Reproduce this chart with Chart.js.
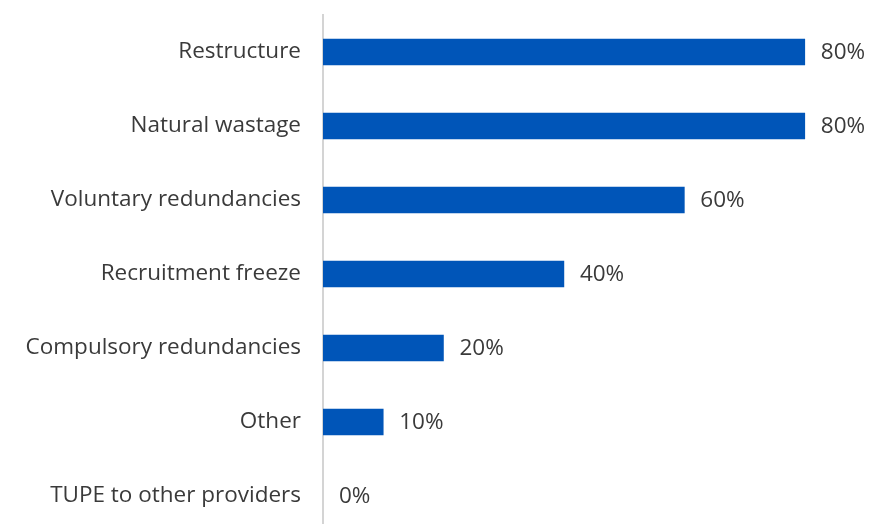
<!DOCTYPE html>
<html>
<head>
<meta charset="utf-8">
<script src="https://cdn.jsdelivr.net/npm/chart.js@4"></script>
<style>
  html, body { margin: 0; padding: 0; background: #fff; overflow: hidden; }
  #wrap { width: 871px; height: 540px; }
</style>
</head>
<body>
<div id="wrap"><canvas id="chart"></canvas></div>
<script>
// Data
const categories = ['Restructure', 'Natural wastage', 'Voluntary redundancies', 'Recruitment freeze',
                    'Compulsory redundancies', 'Other', 'TUPE to other providers'];
const values = [80, 80, 60, 40, 20, 10, 0];

const BAR_BLUE = '#0055b8';
const TEXT = '#3a3a3a';
const FONT = '"Open Sans", sans-serif';
const FONT_SIZE = 22.5;

// Draws the "80%" style labels at the end of each bar
const valueLabels = {
    id: 'valueLabels',
    afterDatasetsDraw(chart) {
        const ctx = chart.ctx;
        const meta = chart.getDatasetMeta(0);
        ctx.save();
        ctx.font = FONT_SIZE + 'px ' + FONT;
        ctx.fillStyle = TEXT;
        ctx.textAlign = 'left';
        ctx.textBaseline = 'middle';
        meta.data.forEach((bar, i) => {
            ctx.fillText(values[i] + '%', bar.x + 16, bar.y + 1);
        });
        ctx.restore();
    }
};

new Chart(document.getElementById('chart'), {
    type: 'bar',
    data: {
        labels: categories,
        datasets: [{
            data: values,
            backgroundColor: ctx => ctx.raw > 0 ? BAR_BLUE : 'rgba(0,0,0,0)',
            borderWidth: 0,
            barThickness: 26
        }]
    },
    options: {
        indexAxis: 'y',
        responsive: true,
        maintainAspectRatio: false,
        animation: false,
        layout: { padding: { top: 15, bottom: 7, right: 6, left: 0 } },
        plugins: {
            legend: { display: false },
            tooltip: { enabled: false }
        },
        scales: {
            x: {
                display: false,
                min: 0,
                max: 90
            },
            y: {
                grid: { display: false, drawTicks: false },
                border: { display: true, color: '#d4d4d4', width: 2 },
                ticks: {
                    padding: 22,
                    color: TEXT,
                    font: { family: FONT, size: FONT_SIZE }
                },
                afterFit(scale) {
                    // axis line sits at x = 323 in the reference
                    scale.width = 323;
                    scale.paddingTop = 0;
                    scale.paddingBottom = 0;
                }
            }
        }
    },
    plugins: [valueLabels]
});
</script>
</body>
</html>
